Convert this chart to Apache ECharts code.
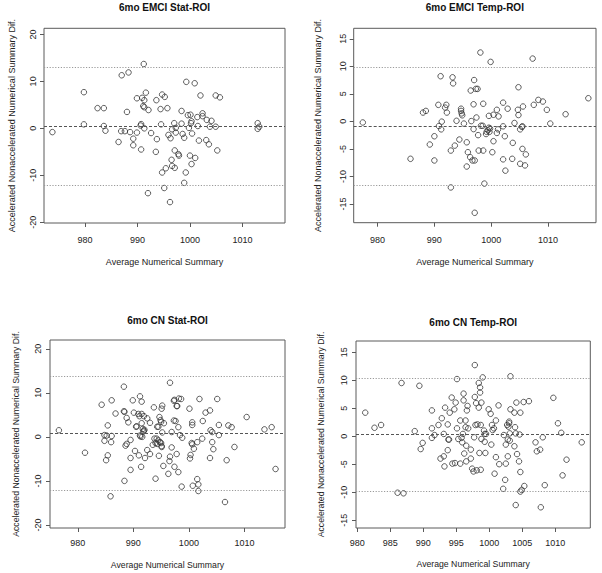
<!DOCTYPE html>
<html>
<head>
<meta charset="utf-8">
<script src="https://cdn.jsdelivr.net/npm/echarts@6/dist/echarts.min.js"></script>
<style>
html,body{margin:0;padding:0;background:#fff;}
#chart{width:602px;height:573px;}
</style>
</head>
<body>
<div id="chart"></div>
<script>
// ---------- DATA ----------
const titles = ['6mo EMCI Stat-ROI', '6mo EMCI Temp-ROI', '6mo CN Stat-ROI', '6mo CN Temp-ROI'];
const xAxisName = 'Average Numerical Summary';
const yAxisName = 'Accelerated Nonaccelerated Numerical Summary Dif.';

const xTicksTen = [980, 990, 1000, 1010];
const xTicksFive = [980, 985, 990, 995, 1000, 1005, 1010];
const yTicksTwenty = [-20, -10, 0, 10, 20];
const yTicksFifteen = [-15, -10, -5, 0, 5, 10, 15];

// [upper limit, mean difference, lower limit]
const emciStatLines = [13.0, 0.43, -12.1];
const emciTempLines = [9.8, -0.85, -11.55];
const cnStatLines = [13.8, 0.75, -12.1];
const cnTempLines = [10.4, 0.3, -9.9];

const emciStat = [
[973.8,-0.8],[979.8,7.7],[979.8,0.85],[982.4,4.3],[983.6,4.3],[983.6,0.5],[983.9,-0.5],[986.4,-2.9],
[986.9,-0.6],[987.0,11.3],[987.6,-0.6],[988.0,3.5],[988.3,11.9],[988.6,-0.8],[989.2,-2.2],[989.2,-3.6],
[989.9,-0.9],[989.9,6.4],[990.6,0.6],[990.7,0.9],[990.7,-4.5],[990.9,6.5],[991.2,13.7],[991.1,4.75],
[991.3,4.5],[991.3,6.0],[991.6,7.6],[991.3,0],[992.1,3.9],[992.0,-13.8],[992.6,-1.0],[993.5,-5.0],
[993.7,-2.3],[993.6,6.0],[994.4,4.1],[994.5,0.85],[994.7,7.2],[994.7,-9.4],[995.2,6.7],[995.1,-12.7],
[995.4,-8.5],[995.7,4.3],[995.9,-1.4],[996.3,-2.1],[996.2,-15.7],[996.5,-6.7],[996.6,-8.0],[996.6,-0.2],
[997.1,-8.4],[997.1,-4.7],[997.0,1.1],[997.3,-0.9],[997.3,0.1],[997.8,-5.5],[997.9,-5.8],[998.4,3.7],
[998.4,1.0],[998.6,-1.2],[998.9,-2.0],[998.9,-11.6],[999.2,-9.4],[999.3,9.9],[999.6,2.8],[999.8,0.1],
[1000.0,-5.8],[1000.1,2.9],[1000.2,1.1],[1000.3,1.5],[1000.4,-1.1],[1000.3,-7.6],[1000.9,9.6],[1001.0,-6.3],
[1001.4,2.4],[1001.5,0.5],[1001.7,-2.6],[1002.0,7.0],[1002.4,3.2],[1002.4,2.6],[1003.2,1.8],[1003.1,-2.5],
[1003.6,-3.4],[1003.8,0.35],[1004.1,1.6],[1004.9,7.0],[1004.9,0.35],[1005.2,-4.7],[1005.7,6.6],[1012.9,1.1],
[1012.9,-0.1],[1013.2,0.35]
];

const emciTemp = [
[977.4,-0.2],[985.8,-6.8],[988.0,1.6],[988.5,1.9],[989.2,-4.2],[990.0,-7.1],[990.0,-2.7],[990.7,3.0],
[990.8,-0.85],[991.1,8.2],[991.2,-1.45],[991.3,-0.05],[991.9,2.5],[992.1,3.0],[992.2,1.6],[992.9,-5.3],
[992.9,-12.0],[993.2,8.0],[993.3,6.9],[993.6,-4.4],[993.9,0.1],[994.4,-3.3],[994.7,2.3],[994.7,1.9],
[994.8,1.45],[994.9,1.1],[995.2,-0.4],[995.7,-3.8],[995.7,-8.2],[995.9,-5.6],[996.3,-6.5],[996.4,5.6],
[996.5,0.05],[996.7,-7.1],[996.9,3.1],[996.9,-1.4],[997.0,7.5],[997.1,-7.1],[997.1,-16.6],[997.3,5.9],
[997.4,0.7],[997.6,5.9],[997.7,-2.5],[997.8,-5.3],[998.1,12.5],[998.2,-0.8],[998.5,-0.8],[998.6,3.2],
[998.6,-5.3],[998.8,-11.3],[999.1,-2.3],[999.2,-1.9],[999.4,-1.6],[999.6,1.0],[999.6,-1.15],[999.7,-1.9],
[999.8,-1.3],[999.9,10.8],[1000.2,-5.6],[1000.4,-3.6],[1000.4,1.2],[1001.0,-2.1],[1001.0,2.1],[1001.2,-1.45],
[1001.3,0.9],[1002.1,-6.9],[1002.1,-0.9],[1002.1,3.4],[1002.4,-2.7],[1002.5,-8.95],[1002.9,2.3],[1003.7,-6.8],
[1003.8,-3.9],[1004.1,-0.3],[1004.7,2.1],[1004.8,1.15],[1004.8,6.2],[1005.1,-1.45],[1005.1,-7.7],[1005.4,-1.0],
[1005.5,-5.0],[1005.5,-0.9],[1005.6,2.7],[1005.95,-8.0],[1006.1,-6.0],[1007.3,11.4],[1007.5,3.0],[1008.3,3.9],
[1009.1,3.6],[1009.8,2.1],[1010.4,-0.4],[1013.1,1.3],[1017.1,4.2]
];

const cnStat = [
[976.6,1.5],[981.3,-3.6],[984.3,7.3],[984.8,0.4],[984.8,-0.9],[985.1,-5.3],[985.2,0.3],[985.4,2.6],
[985.4,-4.2],[985.9,-13.5],[986.0,-1.2],[986.1,8.3],[986.1,0.2],[986.8,5.3],[988.3,11.4],[988.3,5.8],
[988.4,5.7],[988.4,-10.0],[988.6,-2.0],[988.8,-1.6],[988.8,4.3],[989.1,3.3],[989.5,-0.7],[989.5,-4.8],
[989.5,-7.5],[989.9,8.3],[990.1,5.5],[990.3,-3.2],[990.5,2.3],[990.6,2.4],[990.9,5.2],[991.0,-4.2],
[991.1,4.7],[991.2,9.2],[991.2,0.3],[991.3,0.1],[991.5,8.0],[991.4,-6.8],[991.5,5.2],[991.5,3.1],
[991.6,0],[991.7,1.8],[991.8,1.2],[991.9,4.7],[991.9,1.4],[992.0,1.6],[992.1,-4.8],[992.5,4.2],
[992.5,-3.0],[993.0,-3.9],[993.0,3.2],[993.5,-1.8],[993.7,6.7],[993.8,-0.4],[994.0,-9.5],[994.0,-1.4],
[994.2,-0.4],[994.3,-1.6],[994.3,2.3],[994.5,2.3],[994.5,-0.8],[994.6,-4.3],[994.7,4.5],[994.8,-1.2],
[994.9,3.8],[995.0,3.4],[995.0,-1.4],[995.1,-2.1],[995.1,-2.3],[995.1,6.4],[995.2,7.1],[995.2,1.0],
[995.4,-6.6],[995.5,3.1],[996.3,-8.4],[996.5,-5.5],[996.6,-4.5],[996.6,12.3],[996.9,1.1],[996.9,-2.4],
[997.3,3.7],[997.3,8.2],[997.4,8.4],[997.4,-6.8],[997.6,3.6],[997.8,7.0],[997.8,-3.9],[997.9,7.0],
[998.1,2.2],[998.1,-8.0],[998.2,8.7],[998.4,0.4],[998.6,8.6],[998.7,-11.3],[998.8,-0.2],[1000.1,6.4],
[1000.2,-4.9],[1000.3,-4.1],[1000.5,-1.4],[1000.6,-1.7],[1000.6,3.3],[1000.6,2.7],[1000.7,-11.1],[1000.9,-2.7],
[1001.5,-9.6],[1001.5,-1.2],[1001.7,-10.8],[1001.7,-12.3],[1001.9,8.6],[1002.4,-0.4],[1002.5,3.6],[1003.0,5.5],
[1003.8,-4.8],[1003.8,6.0],[1003.9,1.5],[1004.2,1.1],[1004.2,-1.2],[1004.4,-2.8],[1005.1,8.6],[1005.4,2.7],
[1005.4,0.4],[1006.5,-14.8],[1006.8,-5.3],[1007.1,2.6],[1007.7,2.2],[1008.2,-2.3],[1010.4,4.5],[1013.6,1.7],
[1014.9,2.2],[1015.6,-7.3]
];

const cnTemp = [
[981.2,4.2],[982.6,1.5],[983.6,2.0],[986.1,-10.1],[986.7,9.5],[987.0,-10.2],[988.7,0.9],[989.4,9.0],
[989.6,-2.3],[989.9,-1.2],[991.3,4.6],[991.3,1.4],[991.3,-0.3],[991.7,0.2],[992.3,2.0],[992.6,-4.0],
[992.8,3.2],[993.1,-3.6],[993.1,0.4],[993.2,-5.4],[993.3,5.1],[993.7,2.1],[993.7,-2.5],[993.8,-0.6],
[993.9,-0.6],[994.0,4.2],[994.3,6.9],[994.4,-4.9],[994.7,4.8],[994.8,-4.8],[994.9,6.0],[995.1,10.2],
[995.1,1.4],[995.3,-0.5],[995.6,-4.9],[995.6,2.8],[995.8,-0.3],[995.9,-1.1],[996.0,0.4],[996.1,7.6],
[996.1,6.4],[996.2,-3.1],[996.4,2.8],[996.4,1.6],[996.5,-1.7],[996.5,-4.5],[996.6,4.6],[996.7,5.4],
[996.8,1.4],[997.2,-4.0],[997.2,-2.4],[997.4,-5.8],[997.6,-6.3],[997.7,-0.2],[997.8,12.7],[997.8,7.0],
[997.9,2.0],[998.0,5.9],[998.1,-6.1],[998.2,2.1],[998.4,9.5],[998.4,5.1],[998.5,-3.0],[998.6,7.8],
[998.6,8.7],[998.7,-6.0],[998.7,2.0],[998.8,-0.5],[998.8,6.0],[999.0,10.5],[999.2,1.0],[999.3,0.4],
[999.3,-1.0],[999.4,-3.0],[999.5,0.4],[999.9,4.8],[1000.2,4.0],[1000.3,-1.5],[1000.4,2.0],[1000.5,1.1],
[1000.7,1.4],[1000.8,-6.7],[1001.0,-3.75],[1001.0,2.8],[1001.4,5.5],[1001.5,-5.0],[1002.1,-9.4],[1002.2,0.2],
[1002.4,-7.8],[1002.5,-1.5],[1002.5,-4.9],[1002.7,2.0],[1002.8,-0.6],[1002.8,-3.6],[1002.9,1.7],[1003.0,2.3],
[1003.0,2.6],[1003.1,0.5],[1003.1,-0.8],[1003.2,10.7],[1003.2,4.8],[1003.8,4.2],[1003.8,-1.8],[1003.9,1.6],
[1004.0,0.5],[1004.0,-12.3],[1004.1,6.0],[1004.2,-3.2],[1004.5,-4.5],[1004.6,0.3],[1004.7,4.2],[1004.7,-9.9],
[1004.7,-6.4],[1004.9,-9.6],[1005.3,-8.9],[1005.2,6.1],[1006.0,6.25],[1007.0,-1.1],[1007.2,-2.7],[1007.7,-2.4],
[1007.8,-12.7],[1008.1,-0.2],[1008.4,-8.75],[1009.7,6.85],[1010.4,2.3],[1010.9,0.6],[1011.1,-7.0],[1011.7,-4.2],
[1014.0,-1.1]
];

// ---------- LAYOUT ----------
const FONT = '"Liberation Sans", Arial, Helvetica, sans-serif';
const panels = [
  {title: titles[0], data: emciStat, lines: emciStatLines, xTicks: xTicksTen, yTicks: yTicksTwenty,
   box: {l: 44, t: 28.3, r: 285, b: 223}, xr: [972.2, 1018.1], yr: [-20.15, 21.3],
   titleY: 7.5, yNameGap: 27.5, xNameGap: 34, xLabMargin: 12.5, yLabMargin: 6.5, nameSize: 9},
  {title: titles[1], data: emciTemp, lines: emciTempLines, xTicks: xTicksTen, yTicks: yTicksFifteen,
   box: {l: 353.7, t: 28.3, r: 596, b: 222.7}, xr: [975.8, 1018.45], yr: [-18.4, 16.9],
   titleY: 7.5, yNameGap: 31, xNameGap: 34.5, xLabMargin: 12.8, yLabMargin: 6.5, nameSize: 9},
  {title: titles[2], data: cnStat, lines: cnStatLines, xTicks: xTicksTen, yTicks: yTicksTwenty,
   box: {l: 50, t: 340, r: 285, b: 528}, xr: [975.0, 1017.3], yr: [-20.7, 22.0],
   titleY: 320, yNameGap: 30, xNameGap: 32.7, xLabMargin: 10.7, yLabMargin: 7.2, nameSize: 8.7},
  {title: titles[3], data: cnTemp, lines: cnTempLines, xTicks: xTicksFive, yTicks: yTicksFifteen,
   box: {l: 356, t: 341, r: 590.3, b: 528}, xr: [979.8, 1015.3], yr: [-16.4, 17.0],
   titleY: 322, yNameGap: 30.7, xNameGap: 31.7, xLabMargin: 10.7, yLabMargin: 7.2, nameSize: 8.7}
];

const BOX = '#5a5a5a';
const TXT = '#222';
const plain = v => String(v);

const grid = [], xAxis = [], yAxis = [], series = [], graphic = [];
panels.forEach((p, i) => {
  grid.push({
    left: p.box.l, top: p.box.t, width: p.box.r - p.box.l, height: p.box.b - p.box.t,
    show: true, borderColor: BOX, borderWidth: 1, backgroundColor: 'transparent', containLabel: false
  });
  xAxis.push({
    type: 'value', gridIndex: i, min: p.xr[0], max: p.xr[1], position: 'bottom',
    splitLine: {show: false}, axisLine: {show: false, onZero: false},
    axisTick: {show: true, length: 4, customValues: p.xTicks, lineStyle: {color: BOX, width: 1}},
    axisLabel: {show: true, customValues: p.xTicks, formatter: plain, fontSize: 9, color: TXT, fontFamily: FONT, margin: p.xLabMargin},
    name: xAxisName, nameLocation: 'middle', nameGap: p.xNameGap,
    nameTextStyle: {fontSize: p.nameSize, color: TXT, fontFamily: FONT}
  });
  yAxis.push({
    type: 'value', gridIndex: i, min: p.yr[0], max: p.yr[1], position: 'left',
    splitLine: {show: false}, axisLine: {show: false, onZero: false},
    axisTick: {show: true, length: 4, customValues: p.yTicks, lineStyle: {color: BOX, width: 1}},
    axisLabel: {show: true, customValues: p.yTicks, formatter: plain, rotate: 90, fontSize: 9, color: TXT, fontFamily: FONT, margin: p.yLabMargin},
    name: yAxisName, nameLocation: 'middle', nameGap: p.yNameGap, nameRotate: 90,
    nameTextStyle: {fontSize: p.nameSize, color: TXT, fontFamily: FONT}
  });
  series.push({
    type: 'scatter', xAxisIndex: i, yAxisIndex: i, data: p.data,
    symbol: 'circle', symbolSize: 5.5,
    itemStyle: {color: 'rgba(0,0,0,0)', borderColor: '#333', borderWidth: 0.8, opacity: 1},
    emphasis: {disabled: true},
    markLine: {
      silent: true, symbol: 'none', label: {show: false}, animation: false,
      data: [
        {yAxis: p.lines[0], lineStyle: {type: [1.2, 1.6], color: '#9a9a9a', width: 1}},
        {yAxis: p.lines[1], lineStyle: {type: [3, 2], color: '#555', width: 1}},
        {yAxis: p.lines[2], lineStyle: {type: [1.2, 1.6], color: '#9a9a9a', width: 1}}
      ]
    }
  });
  graphic.push({
    type: 'text', x: (p.box.l + p.box.r) / 2, y: p.titleY,
    style: {text: p.title, fill: '#111', font: 'bold 10px ' + FONT, textAlign: 'center', textVerticalAlign: 'middle'}
  });
});

const chart = echarts.init(document.getElementById('chart'), null, {renderer: 'svg', width: 602, height: 573});
chart.setOption({
  animation: false,
  backgroundColor: '#fff',
  textStyle: {fontFamily: FONT},
  grid, xAxis, yAxis, series, graphic
});
</script>
</body>
</html>
